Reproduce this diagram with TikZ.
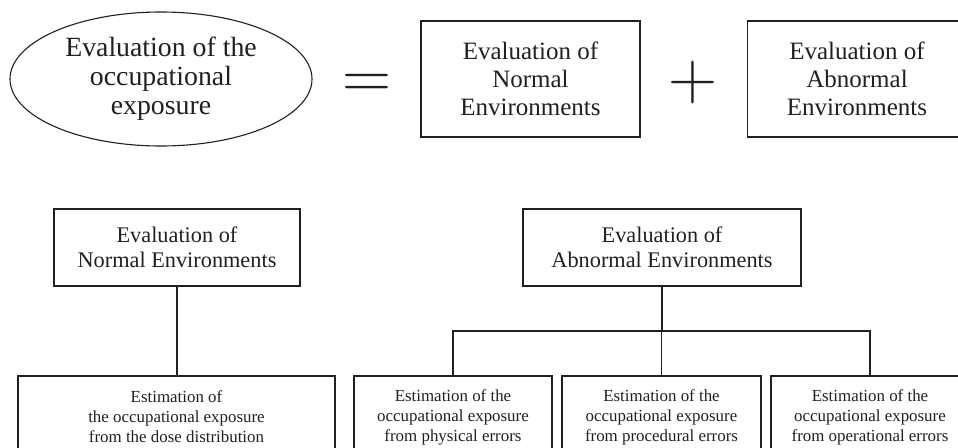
\documentclass[tikz,border=0pt]{standalone}
\usepackage{fontspec}
\setmainfont{Liberation Serif}
\usetikzlibrary{shapes.geometric}
\definecolor{ink}{RGB}{35,31,32}
\tikzset{
  box/.style={draw=ink, line width=1.1pt, text=ink, align=center, inner sep=0pt},
  hugetext/.style={font=\fontsize{27.8}{29}\selectfont},
  bigtext/.style={font=\fontsize{25}{28.3}\selectfont},
  midtext/.style={font=\fontsize{22.3}{25}\selectfont},
  smalltext/.style={font=\fontsize{16.9}{20}\selectfont},
  link/.style={draw=ink, line width=1.1pt},
  thicklink/.style={draw=ink, line width=2pt},
  opsym/.style={text=ink, inner sep=0pt, anchor=base, font=\fontfamily{lmr}\fontsize{68}{68}\selectfont}
}
\begin{document}
\begin{tikzpicture}[x=1pt,y=-1pt]
\useasboundingbox (0,0) rectangle (958,447);
\begin{scope}
\clip (0,0) rectangle (958,447);
% top row
\node[box, hugetext, ellipse, minimum width=302, minimum height=134] (whole) at (161,79)
  {Evaluation of the\\occupational\\exposure};
\node[opsym] (eq) at (366.5,98) {=};
\node[box, bigtext, minimum width=219, minimum height=116] (normal) at (530.5,79)
  {Evaluation of\\Normal\\Environments};
\node[opsym] (plus) at (693,99) {+};
\node[box, bigtext, minimum width=219, minimum height=116] (abnormal) at (857,79)
  {Evaluation of\\Abnormal\\Environments};
% second row
\node[box, midtext, minimum width=246, minimum height=77] (normal2) at (177,247.5)
  {Evaluation of\\Normal Environments};
\node[box, midtext, minimum width=278, minimum height=77] (abnormal2) at (662,247.5)
  {Evaluation of\\Abnormal Environments};
% bottom row
\node[box, smalltext, minimum width=317, minimum height=82] (dose) at (176.5,417)
  {Estimation of\\the occupational exposure\\from the dose distribution};
\node[box, smalltext, minimum width=198, minimum height=82] (phys) at (453,417)
  {Estimation of the\\occupational exposure\\from physical errors};
\node[box, smalltext, minimum width=199, minimum height=82] (proc) at (661.5,417)
  {Estimation of the\\occupational exposure\\from procedural errors};
\node[box, smalltext, minimum width=198, minimum height=82] (oper) at (870,417)
  {Estimation of the\\occupational exposure\\from operational errors};
% connectors
\coordinate (bar) at (0,331);
\draw[thicklink] (normal2.south) -- (normal2.south |- dose.north);
\draw[link] (abnormal2.south) -- (abnormal2.south |- bar);
\draw[link] (phys.north) -- (phys.north |- bar) -- (oper.north |- bar) -- (oper.north);
\draw[link] (proc.north) -- (proc.north |- bar);
\end{scope}
\end{tikzpicture}
\end{document}
